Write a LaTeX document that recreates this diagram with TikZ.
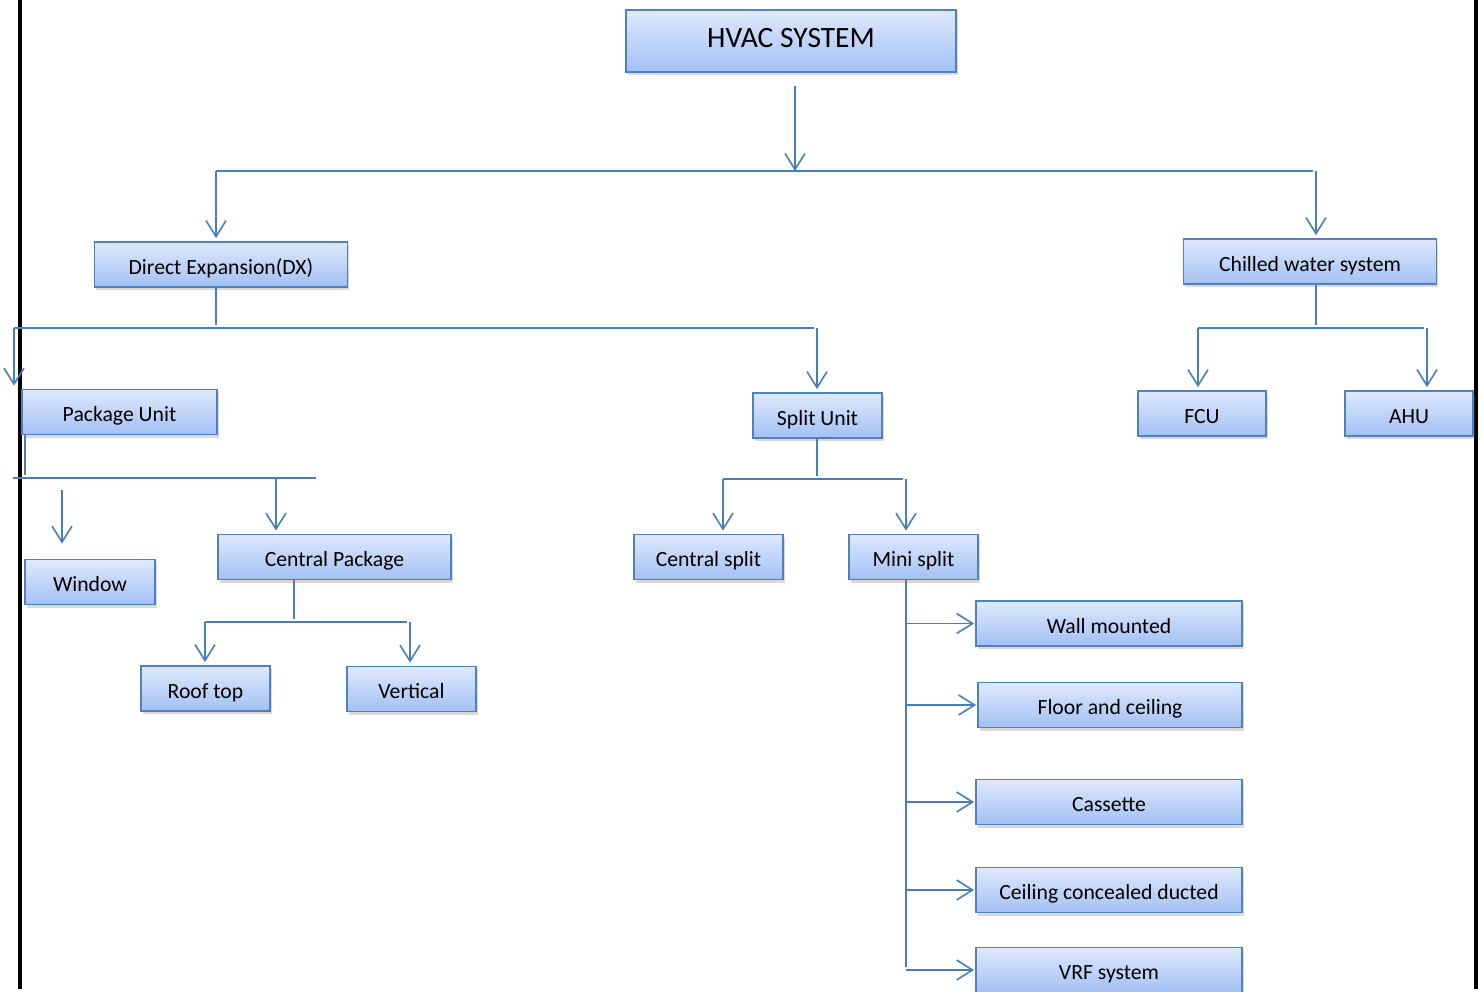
\documentclass[tikz,border=0pt]{standalone}
\usepackage{fontspec}
\setmainfont{Carlito}
\usetikzlibrary{arrows.meta,shadows}

\definecolor{boxline}{RGB}{79,129,189}
\definecolor{boxtop}{RGB}{222,233,252}
\definecolor{boxbot}{RGB}{163,192,244}
\definecolor{conline}{RGB}{74,126,187}

\begin{document}
\begin{tikzpicture}[x=1pt,y=-1pt,>={Straight Barb[length=16pt,width=20pt]},
                    shorten >=3pt,line width=1.6pt,draw=conline]

  \tikzstyle{every node}=[font=\fontsize{21.7}{26}\selectfont]
  \tikzstyle{unit}=[rectangle,draw=boxline,line width=1.8pt,top color=boxtop,
                    bottom color=boxbot,inner sep=0pt,minimum height=45pt,
                    text height=19pt,text depth=0pt,
                    drop shadow={shadow xshift=1.5pt,shadow yshift=-3pt,opacity=0.3}]
  \tikzstyle{link}=[conline,line width=1.6pt]

  \useasboundingbox (0,0) rectangle (1482,992);
  \draw[black,line width=4pt] (20,0) -- (20,992);
  \draw[black,line width=4pt] (1476,0) -- (1476,992);

  \node[unit,minimum width=330pt,minimum height=62pt,text height=13.5pt,
        font=\fontsize{29.5}{33}\selectfont]
                                 (HS)  at (791,41)    {HVAC SYSTEM};
  \node[unit,minimum width=253pt] (DX)  at (221,264.5) {Direct Expansion(DX)};
  \node[unit,minimum width=253pt] (CW)  at (1310,261.5){Chilled water system};
  \node[unit,minimum width=195pt] (PU)  at (119.5,412) {Package Unit};
  \node[unit,minimum width=129pt] (SU)  at (817.5,415.5){Split Unit};
  \node[unit,minimum width=128pt] (FCU) at (1202,413.5){FCU};
  \node[unit,minimum width=128pt] (AHU) at (1409,413.5){AHU};
  \node[unit,minimum width=130pt] (WIN) at (90,582)    {Window};
  \node[unit,minimum width=233pt] (CP)  at (334.5,557) {Central Package};
  \node[unit,minimum width=129pt] (RT)  at (205.5,688.5){Roof top};
  \node[unit,minimum width=129pt] (VT)  at (411.5,689) {Vertical};
  \node[unit,minimum width=149pt] (CS)  at (708.5,557) {Central split};
  \node[unit,minimum width=129pt] (MS)  at (913.5,557) {Mini split};
  \node[unit,minimum width=266pt] (WM)  at (1109,623.5){Wall mounted};
  \node[unit,minimum width=264pt] (FC)  at (1110,705)  {Floor and ceiling};
  \node[unit,minimum width=266pt] (CA)  at (1109,802)  {Cassette};
  \node[unit,minimum width=266pt] (CC)  at (1109,890)  {Ceiling concealed ducted};
  \node[unit,minimum width=266pt] (VRF) at (1109,970)  {VRF system};

  % bars
  \coordinate (B1L) at (216,171);  \coordinate (B1R) at (1316,171);
  \coordinate (B2L) at (14,328);   \coordinate (B2R) at (817,328);
  \coordinate (B3L) at (1198,328); \coordinate (B3R) at (1427,328);
  \coordinate (B4L) at (13,478);   \coordinate (B4R) at (319,478);
  \coordinate (B4C) at (276,478);  \coordinate (W1)  at (62,490);
  \coordinate (B5L) at (205,622);  \coordinate (B5R) at (410,622);
  \coordinate (B5C) at (294,622);
  \coordinate (B6L) at (723,479);  \coordinate (B6R) at (906,479);

  \path[link]
  ([xshift=4pt,yshift=-13pt]HS.south) edge[->,shorten >=0pt] ([xshift=4pt]HS.south |- B1L)
  (B1L) edge (B1R)
  (B1L) edge[->] (B1L |- DX.north)
  (B1R) edge[->] (B1R |- CW.north)
  (B1L |- DX.south) edge (B2L -| B1L)
  (B2L) edge (B2R)
  (B2L) edge[->] (B2L |- PU.north)
  (B2R) edge[->] (B2R |- SU.north)
  (B1R |- CW.south) edge (B3L -| B1R)
  (B3L) edge (B3R)
  (B3L) edge[->] (B3L |- FCU.north)
  (B3R) edge[->] (B3R |- AHU.north)
  ([xshift=4pt]PU.south west) edge ([xshift=4pt]PU.south west |- B4L)
  (B4L) edge (B4R)
  (B4C) edge[->] (B4C |- CP.north)
  (W1) edge[->,shorten >=15pt] (W1 |- WIN.north)
  (B5C |- CP.south) edge (B5C)
  (B5L) edge (B5R)
  (B5L) edge[->] (B5L |- RT.north)
  (B5R) edge[->] (B5R |- VT.north)
  (B2R |- SU.south) edge (B2R |- B6L)
  (B6L) edge (B6R)
  (B6L) edge[->] (B6L |- CS.north)
  (B6R) edge[->] (B6R |- MS.north)
  (B6R |- MS.south) edge (B6R |- VRF.west)
  ;
  \foreach \n in {WM,FC,CA,CC,VRF}
    \draw[link,->,shorten >=1pt] (B6R |- \n.west) -- (\n.west);
\end{tikzpicture}
\end{document}
